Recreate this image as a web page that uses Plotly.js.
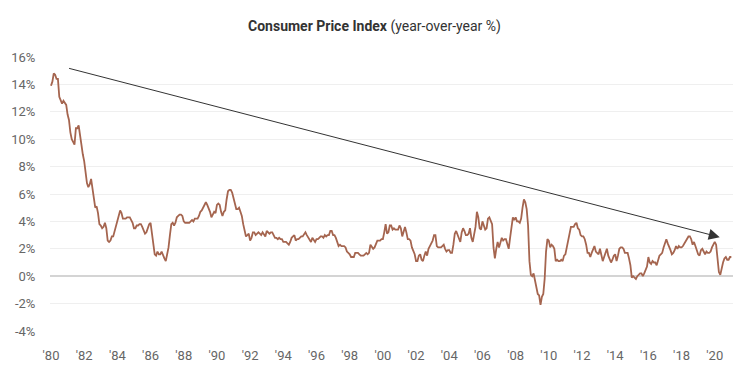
<!DOCTYPE html>
<html>
<head>
<meta charset="utf-8">
<script src="https://cdn.plot.ly/plotly-3.0.1.min.js"></script>
<style>html,body{margin:0;padding:0;background:#fff;}#chart{width:749px;height:374px;}</style>
</head>
<body>
<div id="chart"></div>
<script>
// Monthly CPI year-over-year % (Jan..Dec)
const startYear = 1980;
const cpi1980s = [
  13.9,14.2,14.8,14.7,14.4,14.4,13.1,12.9,12.6,12.8,12.6,12.5,
  11.8,11.4,10.5,10.0,9.8,9.6,10.8,10.8,11.0,10.1,9.6,8.9,
  8.4,7.6,6.8,6.5,6.7,7.1,6.4,5.9,5.0,5.1,4.6,3.8,
  3.7,3.5,3.6,3.9,3.5,2.6,2.5,2.6,2.9,2.9,3.3,3.8,
  4.2,4.6,4.8,4.6,4.2,4.2,4.2,4.3,4.3,4.3,4.1,3.9,
  3.5,3.5,3.7,3.7,3.8,3.8,3.6,3.3,3.1,3.2,3.5,3.8,
  3.9,3.1,2.2,1.6,1.5,1.8,1.6,1.6,1.8,1.5,1.3,1.1,
  1.5,2.1,3.0,3.8,3.9,3.7,3.9,4.3,4.4,4.5,4.5,4.4,
  4.0,3.9,3.9,3.9,3.9,4.0,4.1,4.0,4.2,4.2,4.2,4.4,
  4.7,4.8,5.0,5.1,5.4,5.2,5.0,4.7,4.3,4.5,4.7,4.6
];
const cpi1990s = [
  5.2,5.3,5.2,4.7,4.4,4.7,4.8,5.6,6.2,6.3,6.3,6.1,
  5.7,5.3,4.9,4.9,5.0,4.7,4.4,3.8,3.4,2.9,3.0,3.1,
  2.6,2.8,3.2,3.2,3.0,3.1,3.2,3.1,3.0,3.2,3.0,2.9,
  3.3,3.2,3.1,3.2,3.2,3.0,2.8,2.8,2.7,2.8,2.7,2.7,
  2.5,2.5,2.5,2.4,2.3,2.5,2.8,2.9,3.0,2.6,2.7,2.7,
  2.8,2.9,2.9,3.1,3.2,3.0,2.8,2.6,2.5,2.8,2.6,2.5,
  2.7,2.7,2.8,2.9,2.9,2.8,3.0,2.9,3.0,3.0,3.3,3.3,
  3.0,3.0,2.8,2.5,2.2,2.3,2.2,2.2,2.2,2.1,1.8,1.7,
  1.6,1.4,1.4,1.4,1.7,1.7,1.7,1.6,1.5,1.5,1.5,1.6,
  1.7,1.6,1.7,2.3,2.1,2.0,2.1,2.3,2.6,2.6,2.6,2.7
];
const cpi2000s = [
  2.7,3.2,3.8,3.1,3.2,3.7,3.7,3.4,3.5,3.4,3.4,3.4,
  3.7,3.5,2.9,3.3,3.6,3.2,2.7,2.7,2.6,2.1,1.9,1.6,
  1.1,1.1,1.5,1.6,1.2,1.1,1.5,1.8,1.5,2.0,2.2,2.4,
  2.6,3.0,3.0,2.2,2.1,2.1,2.1,2.2,2.3,2.0,1.8,1.9,
  1.9,1.7,1.7,2.3,3.1,3.3,3.0,2.7,2.5,3.2,3.5,3.3,
  3.0,3.0,3.1,3.5,2.8,2.5,3.2,3.6,4.7,4.3,3.5,3.4,
  4.0,3.6,3.4,3.5,4.2,4.3,4.1,3.8,2.1,1.3,2.0,2.5,
  2.1,2.4,2.8,2.6,2.7,2.7,2.4,2.0,2.8,3.5,4.3,4.1,
  4.3,4.0,4.0,3.9,4.2,5.0,5.6,5.4,4.9,3.7,1.1,0.1,
  0.0,0.2,-0.4,-0.7,-1.3,-1.4,-2.1,-1.5,-1.3,-0.2,1.8,2.7
];
const cpi2010s = [
  2.6,2.1,2.3,2.2,2.0,1.1,1.2,1.1,1.1,1.2,1.1,1.5,
  1.6,2.1,2.7,3.2,3.6,3.6,3.6,3.8,3.9,3.5,3.4,3.0,
  2.9,2.9,2.7,2.3,1.7,1.7,1.4,1.7,2.0,2.2,1.8,1.7,
  1.6,2.0,1.5,1.1,1.4,1.8,2.0,1.5,1.2,1.0,1.2,1.5,
  1.6,1.1,1.5,2.0,2.1,2.1,2.0,1.7,1.7,1.7,1.3,0.8,
  -0.1,0.0,-0.1,-0.2,0.0,0.1,0.2,0.2,0.0,0.2,0.5,0.7,
  1.4,1.0,0.9,1.1,1.0,1.0,0.8,1.1,1.5,1.6,1.7,2.1,
  2.5,2.7,2.4,2.2,1.9,1.6,1.7,1.9,2.2,2.0,2.2,2.1,
  2.1,2.2,2.4,2.5,2.8,2.9,2.9,2.7,2.3,2.5,2.2,1.9,
  1.6,1.5,1.9,2.0,1.8,1.6,1.8,1.7,1.7,1.8,2.1,2.3
];
const cpi2020s = [2.5,2.3,1.5,0.3,0.1,0.6,1.0,1.3,1.4,1.2,1.2,1.4,1.4];

const tickYears = [1980,1982,1984,1986,1988,1990,1992,1994,1996,1998,2000,2002,2004,2006,2008,2010,2012,2014,2016,2018,2020];
const tickLabels = ["'80","'82","'84","'86","'88","'90","'92","'94","'96","'98","'00","'02","'04","'06","'08","'10","'12","'14","'16","'18","'20"];
const yTicks = [-4,-2,0,2,4,6,8,10,12,14,16];
const yTickLabels = ["-4%","-2%","0%","2%","4%","6%","8%","10%","12%","14%","16%"];

const values = [].concat(cpi1980s, cpi1990s, cpi2000s, cpi2010s, cpi2020s);
const xs = values.map((v, i) => startYear + i / 12);

const font = "'Roboto', 'Liberation Sans', sans-serif";

const trace = {
  x: xs, y: values, type: 'scatter', mode: 'lines',
  line: {color: '#a5654f', width: 1.8},
  hoverinfo: 'skip'
};

const layout = {
  width: 749, height: 374,
  margin: {l: 50, r: 16, t: 57, b: 43},
  paper_bgcolor: '#fff', plot_bgcolor: '#fff',
  showlegend: false,
  title: {
    text: '<b>Consumer Price Index</b> (year-over-year %)',
    font: {family: font, size: 14, color: '#333'},
    x: 0.5, xanchor: 'center', y: 0.93, yanchor: 'middle'
  },
  xaxis: {
    range: [1979.94, 2021.1],
    tickmode: 'array', tickvals: tickYears, ticktext: tickLabels,
    showgrid: false, zeroline: false, showline: false,
    ticks: 'outside', ticklen: 12, tickcolor: 'rgba(0,0,0,0)',
    tickfont: {family: font, size: 13, color: '#666'}
  },
  yaxis: {
    range: [-4, 16],
    tickmode: 'array', tickvals: yTicks, ticktext: yTickLabels,
    showgrid: true, gridcolor: '#efefef', gridwidth: 1,
    zeroline: true, zerolinecolor: '#d4d4d4', zerolinewidth: 2,
    showline: false,
    ticks: 'outside', ticklen: 11, tickcolor: 'rgba(0,0,0,0)',
    tickfont: {family: font, size: 13, color: '#666'}
  },
  annotations: [{
    x: 2020.3, y: 2.85, xref: 'x', yref: 'y',
    ax: 1981.0, ay: 15.2, axref: 'x', ayref: 'y',
    showarrow: true, arrowhead: 2, arrowsize: 2.2, arrowwidth: 1,
    arrowcolor: '#333', text: ''
  }]
};

Plotly.newPlot('chart', [trace], layout, {staticPlot: true, displayModeBar: false});
</script>
</body>
</html>
